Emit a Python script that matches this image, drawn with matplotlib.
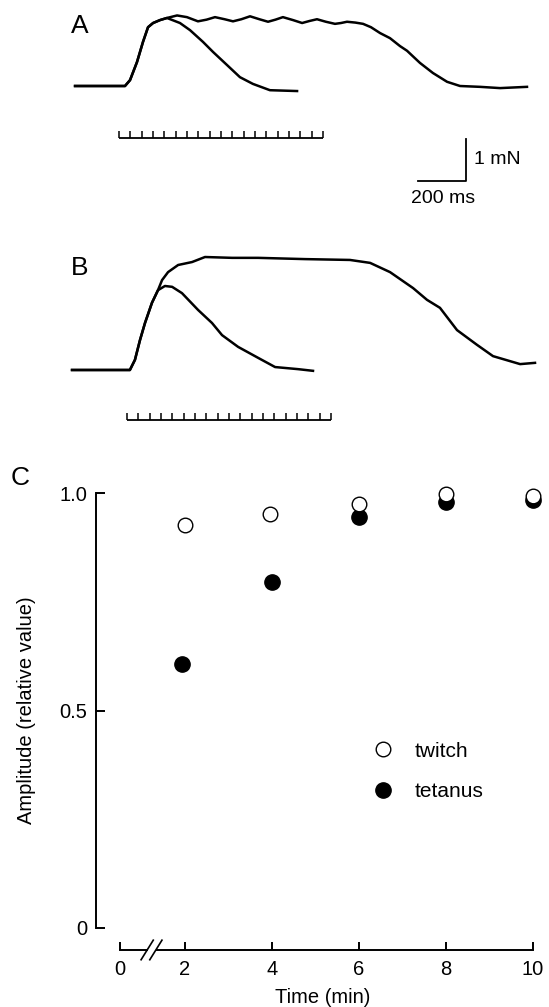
import matplotlib
matplotlib.use("Agg")
import matplotlib.pyplot as plt

plt.rcParams['font.family'] = ['Liberation Sans', 'DejaVu Sans']

# --- traces (time in ms from stimulus onset, force in mN) ---
twitch_a_t = [-183, 25, 46, 75, 100, 121, 142, 171, 200, 254, 296, 350, 392, 450, 504, 558, 629, 742]
twitch_a_f = [0.00, 0.00, 0.14, 0.57, 1.05, 1.40, 1.50, 1.57, 1.62, 1.50, 1.33, 1.05, 0.81, 0.50, 0.21, 0.05, -0.10, -0.12]

tetanus_a_t = [-183, 25, 46, 75, 100, 121, 142, 171, 200, 242, 283, 329, 365, 400, 440, 475, 510,
               546, 585, 621, 652, 683, 725, 763, 795, 825, 862, 900, 925, 950, 985, 1017, 1050,
               1088, 1129, 1171, 1200, 1254, 1308, 1367, 1421, 1504, 1588, 1700]
tetanus_a_f = [0.00, 0.00, 0.14, 0.57, 1.05, 1.40, 1.50, 1.57, 1.62, 1.68, 1.64, 1.54, 1.58, 1.64, 1.59, 1.54, 1.59,
               1.66, 1.59, 1.53, 1.58, 1.64, 1.57, 1.50, 1.55, 1.59, 1.53, 1.48, 1.50, 1.53, 1.51, 1.48, 1.40,
               1.26, 1.14, 0.95, 0.84, 0.55, 0.31, 0.10, 0.00, -0.02, -0.05, -0.02]

twitch_b_t = [-229, 12, 33, 54, 75, 104, 129, 158, 188, 229, 296, 354, 396, 463, 546, 617, 713, 775]
twitch_b_f = [0.00, 0.00, 0.24, 0.71, 1.12, 1.60, 1.90, 2.00, 1.98, 1.83, 1.43, 1.12, 0.83, 0.55, 0.29, 0.07, 0.02, -0.02]

tetanus_b_t = [-229, 12, 33, 54, 75, 104, 129, 146, 171, 213, 271, 325, 438, 546, 742, 929, 1013,
               1096, 1192, 1250, 1304, 1375, 1458, 1525, 1638, 1700]
tetanus_b_f = [0.00, 0.00, 0.24, 0.71, 1.12, 1.60, 1.90, 2.14, 2.33, 2.50, 2.57, 2.69, 2.67, 2.67, 2.64, 2.62, 2.55,
               2.33, 1.95, 1.67, 1.48, 0.95, 0.60, 0.33, 0.14, 0.17]

# stimulus train (ms)
stim_times = [0, 47, 94, 142, 189, 236, 283, 331, 378, 425, 472, 519, 567, 614, 661, 708, 756, 803, 850]

# --- panel C data ---
time_twitch = [2.0, 3.95, 6.0, 8.0, 10.0]
amp_twitch = [0.927, 0.952, 0.974, 0.997, 0.993]
time_tetanus = [1.94, 4.0, 6.0, 8.0, 10.0]
amp_tetanus = [0.606, 0.796, 0.946, 0.979, 0.983]

xtick_pos = [0.51, 2, 4, 6, 8, 10]
xtick_lbl = ['0', '2', '4', '6', '8', '10']
ytick_pos = [0, 0.5, 1.0]
ytick_lbl = ['0', '0.5', '1.0']

W, H = 549, 1007
fig = plt.figure(figsize=(W / 100, H / 100), dpi=100)

lw = 1.8
fs = 14.5

# --- panel A ---
ax_a = fig.add_axes([0, 1 - 230 / H, 1, 230 / H])
ax_a.set_xlim(-495.8, 1791.7)
ax_a.set_ylim(-3.429, 2.048)
ax_a.axis('off')
ax_a.plot(twitch_a_t, twitch_a_f, color='black', lw=lw, solid_joinstyle='round')
ax_a.plot(tetanus_a_t, tetanus_a_f, color='black', lw=lw, solid_joinstyle='round')
bar_y, tick_h = -1.238, 0.167
ax_a.hlines(bar_y, stim_times[0], stim_times[-1], color='black', lw=1.3)
ax_a.vlines(stim_times, bar_y, bar_y + tick_h, color='black', lw=1.1)

# scale bar
sx, sy = 1446, -2.262
ax_a.plot([sx - 200, sx, sx], [sy, sy, sy + 1], color='black', lw=1.3)
ax_a.text(sx + 35, sy + 0.52, '1 mN', fontsize=14, va='center', ha='left')
ax_a.text(sx - 96, sy - 0.42, '200 ms', fontsize=14, va='center', ha='center')

# --- panel B ---
ax_b = fig.add_axes([0, 1 - 470 / H, 1, 240 / H])
ax_b.set_xlim(-529.2, 1758.3)
ax_b.set_ylim(-2.381, 3.333)
ax_b.axis('off')
ax_b.plot(twitch_b_t, twitch_b_f, color='black', lw=lw, solid_joinstyle='round')
ax_b.plot(tetanus_b_t, tetanus_b_f, color='black', lw=lw, solid_joinstyle='round')
bar_y = -1.19
ax_b.hlines(bar_y, stim_times[0], stim_times[-1], color='black', lw=1.3)
ax_b.vlines(stim_times, bar_y, bar_y + tick_h, color='black', lw=1.1)

# --- panel C ---
ax_c = fig.add_axes([95.6 / W, 57 / H, 1 - 95.6 / W, 480 / H])
ax_c.set_xlim(-0.056, 10.37)
ax_c.set_ylim(-0.0506, 1.053)
ax_c.plot(time_tetanus, amp_tetanus, 'o', color='black', ms=11, label='tetanus', clip_on=False, zorder=3)
ax_c.plot(time_twitch, amp_twitch, 'o', mfc='white', mec='black', mew=1.0, ms=10.5,
          label='twitch', clip_on=False, zorder=4)

for s in ['top', 'right']:
    ax_c.spines[s].set_visible(False)
ax_c.spines['left'].set_bounds(0, 1)
ax_c.spines['left'].set_linewidth(1.4)
ax_c.spines['bottom'].set_bounds(1.36, 10)
ax_c.spines['bottom'].set_linewidth(1.4)
# axis break: short piece from 0 plus the double slash
ax_c.plot([0.51, 1.12], [-0.0506, -0.0506], color='black', lw=1.4, clip_on=False)
ax_c.plot([0.99, 1.27], [-0.073, -0.028], color='black', lw=1.2, clip_on=False)
ax_c.plot([1.19, 1.47], [-0.073, -0.028], color='black', lw=1.2, clip_on=False)

ax_c.set_yticks(ytick_pos)
ax_c.set_yticklabels(ytick_lbl)
ax_c.set_xticks(xtick_pos)
ax_c.set_xticklabels(xtick_lbl)
ax_c.tick_params(axis='y', direction='in', length=6.5, width=1.4, pad=6, labelsize=fs)
ax_c.tick_params(axis='x', direction='in', length=6, width=1.4, pad=7, labelsize=fs)

ax_c.set_xlabel('Time (min)', fontsize=fs, labelpad=7)
ax_c.set_ylabel('Amplitude (relative value)', fontsize=fs)
ax_c.yaxis.set_label_coords(-0.131, 0.5)

h, l = ax_c.get_legend_handles_labels()
ax_c.legend(h[::-1], l[::-1], loc='center left', bbox_to_anchor=(0.612, 0.372),
            frameon=False, fontsize=15, handlelength=1.0, handletextpad=1.0,
            labelspacing=1.05, borderpad=0, borderaxespad=0)

# panel letters
fig.text(80 / W, 1 - 26 / H, 'A', fontsize=19, ha='center', va='center')
fig.text(80 / W, 1 - 268 / H, 'B', fontsize=19, ha='center', va='center')
fig.text(20 / W, 1 - 478 / H, 'C', fontsize=19, ha='center', va='center')

fig.savefig('out.png', dpi=100)
